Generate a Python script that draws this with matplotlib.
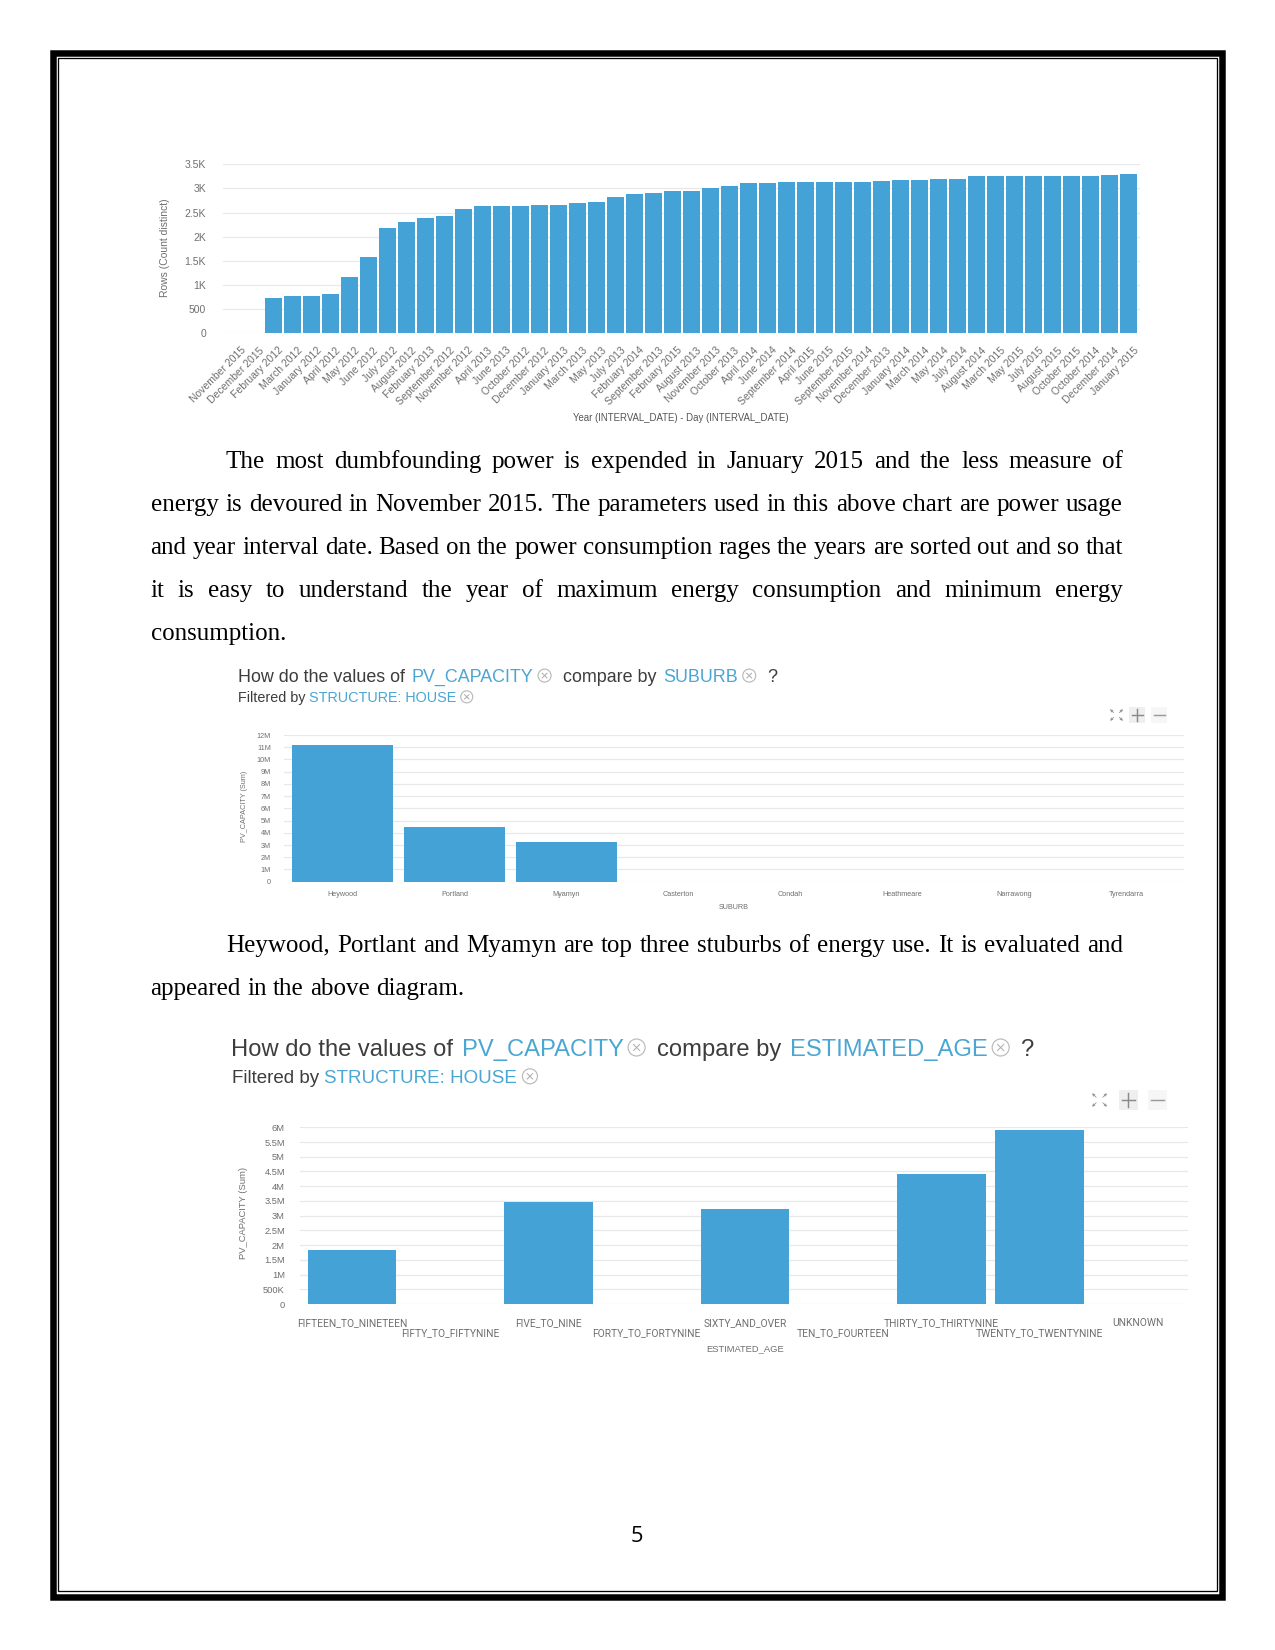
import matplotlib
matplotlib.use("Agg")
import matplotlib.pyplot as plt
from matplotlib.patches import Rectangle, Circle
import matplotlib.transforms as mtransforms
import numpy as np

# ---------------- data ----------------
months = ["November 2015", "December 2015", "February 2012", "March 2012", "January 2012",
          "April 2012", "May 2012", "June 2012", "July 2012", "August 2012", "February 2013",
          "September 2012", "November 2012", "April 2013", "June 2013", "October 2012",
          "December 2012", "January 2013", "March 2013", "May 2013", "July 2013",
          "February 2014", "September 2013", "February 2015", "August 2013", "November 2013",
          "October 2013", "April 2014", "June 2014", "September 2014", "April 2015",
          "June 2015", "September 2015", "November 2014", "December 2013", "January 2014",
          "March 2014", "May 2014", "July 2014", "August 2014", "March 2015", "May 2015",
          "July 2015", "August 2015", "October 2015", "October 2014", "December 2014",
          "January 2015"]
rows_count = [0, 0, 725, 773, 773, 814, 1166, 1580, 2174, 2305, 2395, 2436, 2567, 2629,
              2629, 2629, 2657, 2657, 2698, 2719, 2830, 2878, 2899, 2947, 2947, 3009, 3057,
              3119, 3119, 3140, 3140, 3140, 3140, 3140, 3161, 3181, 3181, 3202, 3202, 3250,
              3250, 3250, 3250, 3250, 3250, 3250, 3271, 3299]
rows_ticks = [0, 500, 1000, 1500, 2000, 2500, 3000, 3500]
rows_ticklabels = ["0", "500", "1K", "1.5K", "2K", "2.5K", "3K", "3.5K"]

suburbs = ["Heywood", "Portland", "Myamyn", "Casterton", "Condah", "Heathmeare",
           "Narrawong", "Tyrendarra"]
pv_by_suburb = [11.18e6, 4.45e6, 3.22e6, 0, 0, 0, 0, 0]
suburb_ticks = [i * 1e6 for i in range(13)]
suburb_ticklabels = ["0"] + ["%dM" % i for i in range(1, 13)]

ages = ["FIFTEEN_TO_NINETEEN", "FIFTY_TO_FIFTYNINE", "FIVE_TO_NINE", "FORTY_TO_FORTYNINE",
        "SIXTY_AND_OVER", "TEN_TO_FOURTEEN", "THIRTY_TO_THIRTYNINE",
        "TWENTY_TO_TWENTYNINE", "UNKNOWN"]
pv_by_age = [1.83e6, 0, 3.47e6, 0, 3.24e6, 0, 4.41e6, 5.91e6, 0]
age_ticks = [i * 0.5e6 for i in range(13)]
age_ticklabels = ["0", "500K", "1M", "1.5M", "2M", "2.5M", "3M", "3.5M", "4M", "4.5M",
                  "5M", "5.5M", "6M"]

para1 = ["The most dumbfounding power is expended in January 2015 and the less measure of",
         "energy is devoured in November 2015. The parameters used in this above chart are power usage",
         "and year interval date. Based on the power consumption rages the years are sorted out and so that",
         "it is easy to understand the year of maximum energy consumption and minimum energy",
         "consumption."]
para2 = ["Heywood, Portlant and Myamyn are top three stuburbs of energy use. It is evaluated and",
         "appeared in the above diagram."]

# ---------------- style ----------------
W, H, DPI = 1275, 1650, 150
BLUE = "#44a2d6"
TBLUE = "#4aa6d3"
DARK = "#3d3d3d"
TICK = "#6f6f6f"
GRID = "#e8e8e8"
SANS = "Liberation Sans"
SMALL = "Roboto"
SERIF = "Liberation Serif"


def pt(px):
    return px * 72.0 / DPI


fig = plt.figure(figsize=(W / DPI, H / DPI), dpi=DPI)
fig.patch.set_facecolor("white")
page = fig.add_axes([0, 0, 1, 1], zorder=0)
page.set_xlim(0, W)
page.set_ylim(H, 0)
page.axis("off")
renderer = fig.canvas.get_renderer()


def px_axes(x0, y0, x1, y1):
    return fig.add_axes([x0 / W, 1 - y1 / H, (x1 - x0) / W, (y1 - y0) / H], zorder=1)


def width_of(t):
    return t.get_window_extent(renderer).width


# ---------------- page border ----------------
page.add_patch(Rectangle((53, 53), 1222 - 53, 1596.5 - 53, fill=False, ec="black",
                         lw=pt(6.5), joinstyle="miter"))
page.add_patch(Rectangle((58, 57.8), 1216.5 - 58, 1591 - 57.8, fill=False, ec="black",
                         lw=pt(1.3), joinstyle="miter"))


# ---------------- helpers ----------------
def icon(x, cy, r):
    page.add_patch(Circle((x + r, cy), r, fill=False, ec="#b8b8b8", lw=0.55))
    d = r * 0.36
    page.plot([x + r - d, x + r + d], [cy - d, cy + d], color="#b0b0b0", lw=0.5)
    page.plot([x + r - d, x + r + d], [cy + d, cy - d], color="#b0b0b0", lw=0.5)


def seg_line(x, y, segs, size):
    sp = size * DPI / 72.0 * 0.278
    cap = size * DPI / 72.0 * 0.716
    for kind, val, color in segs:
        if kind == "text":
            t = page.text(x, y, val, fontsize=size, color=color, family=SANS,
                          ha="left", va="baseline")
            x += width_of(t)
        elif kind == "space":
            x += sp * val
        elif kind == "icon":
            icon(x, y - cap / 2.0, val)
            x += 2 * val


def toolbar(xe, xp, xm, cy, s):
    # expand icon: four small arrows pointing to the corners
    cx = xe + s * 0.5
    for sx, sy in [(-1, -1), (1, -1), (-1, 1), (1, 1)]:
        page.annotate("", xy=(cx + sx * s * 0.5, cy + sy * s * 0.45),
                      xytext=(cx + sx * s * 0.22, cy + sy * s * 0.18),
                      arrowprops=dict(arrowstyle="-|>", lw=0.4, color="#9a9a9a",
                                      mutation_scale=2.5, shrinkA=0, shrinkB=0))
    # plus
    page.add_patch(Rectangle((xp, cy - s * 0.65), s * 1.25, s * 1.3, fc="#efefef", ec="none"))
    page.plot([xp + s * 0.2, xp + s * 1.05], [cy, cy], color="#8a8a8a", lw=0.7)
    page.plot([xp + s * 0.625, xp + s * 0.625], [cy - s * 0.45, cy + s * 0.45],
              color="#8a8a8a", lw=0.7)
    # minus
    page.add_patch(Rectangle((xm, cy - s * 0.65), s * 1.25, s * 1.3, fc="#f6f6f6", ec="none"))
    page.plot([xm + s * 0.2, xm + s * 1.05], [cy, cy], color="#9a9a9a", lw=0.7)


def style_axes(ax):
    for s in ax.spines.values():
        s.set_visible(False)
    ax.set_axisbelow(True)
    ax.grid(axis="y", color=GRID, lw=0.6)
    ax.grid(axis="x", visible=False)
    ax.tick_params(length=0, colors=TICK)
    ax.patch.set_alpha(0)


def justify(lines, x0, x1, y0, step, indent, size):
    sp = size * DPI / 72.0 * 0.25
    for li, line in enumerate(lines):
        words = line.split(" ")
        y = y0 + li * step
        xs = x0 + (indent if li == 0 else 0)
        texts = [page.text(0, y, w, fontsize=size, family=SERIF, color="black",
                           ha="left", va="baseline") for w in words]
        ws = [width_of(t) for t in texts]
        last = li == len(lines) - 1
        if last or len(words) == 1:
            gap = sp
        else:
            gap = (x1 - xs - sum(ws)) / (len(words) - 1)
        x = xs
        for t, w in zip(texts, ws):
            t.set_x(x)
            x += w + gap


# ---------------- chart 1 ----------------
ax1 = px_axes(223, 164.3, 1140, 333.3)
xi = np.arange(len(months))
ax1.bar(xi, rows_count, width=0.88, color=BLUE, zorder=2)
ax1.set_xlim(-0.647, 47.616)
ax1.set_ylim(0, 3500)
style_axes(ax1)
ax1.set_yticks(rows_ticks)
ax1.set_yticklabels(rows_ticklabels, family=SANS, fontsize=5)
ax1.tick_params(axis="y", pad=pt(17))
ax1.set_xticks(xi)
ax1.set_xticklabels(months, rotation=45, ha="right", va="top", rotation_mode="anchor",
                    family=SANS, fontsize=5)
ax1.tick_params(axis="x", pad=pt(12))
off = mtransforms.ScaledTranslation(5.0 / DPI, 0, fig.dpi_scale_trans)
for lab in ax1.get_xticklabels():
    lab.set_transform(lab.get_transform() + off)
page.text(165, 248, "Rows (Count distinct)", rotation=90, ha="center", va="center",
          fontsize=5, family=SANS, color=TICK)
page.text(681, 418, "Year (INTERVAL_DATE) - Day (INTERVAL_DATE)", ha="center", va="center",
          fontsize=4.6, family=SANS, color="#555555")

# ---------------- paragraph 1 ----------------
justify(para1, 150.5, 1123, 468, 43.1, 75.5, 12)

# ---------------- chart 2 ----------------
seg_line(238, 682, [("text", "How do the values of", DARK), ("space", 1.3, None),
                    ("text", "PV_CAPACITY", TBLUE), ("space", 1.0, None), ("icon", 6.5, None),
                    ("space", 2.4, None), ("text", "compare by", DARK), ("space", 1.3, None),
                    ("text", "SUBURB", TBLUE), ("space", 1.0, None), ("icon", 6.5, None),
                    ("space", 2.4, None), ("text", "?", DARK)], 8.6)
seg_line(238, 702, [("text", "Filtered by", DARK), ("space", 1.0, None),
                    ("text", "STRUCTURE: HOUSE", TBLUE), ("space", 1.0, None),
                    ("icon", 6, None)], 6.9)
toolbar(1110, 1129, 1151, 715, 13)

ax2 = px_axes(284, 735, 1184, 881.7)
xs2 = np.arange(len(suburbs))
ax2.bar(xs2, pv_by_suburb, width=0.9, color=BLUE, zorder=2)
ax2.set_xlim(-0.522, 7.513)
ax2.set_ylim(0, 12e6)
style_axes(ax2)
ax2.set_yticks(suburb_ticks)
ax2.set_yticklabels(suburb_ticklabels, family=SANS, fontsize=3.5)
ax2.tick_params(axis="y", pad=pt(13))
ax2.set_xticks(xs2)
ax2.set_xticklabels(suburbs, family=SANS, fontsize=3.5)
ax2.tick_params(axis="x", pad=pt(9))
page.text(244, 806.5, "PV_CAPACITY (Sum)", rotation=90, ha="center", va="center",
          fontsize=3.5, family=SANS, color=TICK)
page.text(734, 907.5, "SUBURB", ha="center", va="center", fontsize=3.5, family=SANS,
          color=TICK)

# ---------------- paragraph 2 ----------------
justify(para2, 150.5, 1123, 952, 43.1, 75.5, 12)

# ---------------- chart 3 ----------------
seg_line(231, 1056, [("text", "How do the values of", DARK), ("space", 1.3, None),
                     ("text", "PV_CAPACITY", TBLUE), ("space", 0.7, None), ("icon", 8.5, None),
                     ("space", 1.8, None), ("text", "compare by", DARK), ("space", 1.3, None),
                     ("text", "ESTIMATED_AGE", TBLUE), ("space", 0.7, None), ("icon", 8.5, None),
                     ("space", 1.8, None), ("text", "?", DARK)], 11.4)
seg_line(231.5, 1083, [("text", "Filtered by", DARK), ("space", 1.0, None),
                       ("text", "STRUCTURE: HOUSE", TBLUE), ("space", 1.1, None),
                       ("icon", 7.5, None)], 9)
toolbar(1092, 1119, 1148, 1100, 15)

ax3 = px_axes(300, 1127.3, 1188, 1304)
xs3 = np.arange(len(ages))
ax3.bar(xs3, pv_by_age, width=0.9, color=BLUE, zorder=2)
ax3.set_xlim(-0.53, 8.51)
ax3.set_ylim(0, 6e6)
style_axes(ax3)
ax3.set_yticks(age_ticks)
ax3.set_yticklabels(age_ticklabels, family=SANS, fontsize=4.5)
ax3.tick_params(axis="y", pad=pt(15))
ax3.set_xticks(xs3)
ax3.set_xticklabels([])
lab_tr = mtransforms.blended_transform_factory(ax3.transData, ax3.transAxes)
for i, a in enumerate(ages):
    dy = 29.5 if i % 2 else 19.0
    tr = lab_tr + mtransforms.ScaledTranslation(0, -dy / DPI, fig.dpi_scale_trans)
    ax3.text(xs3[i], 0, a, transform=tr, ha="center", va="center", family=SMALL,
             fontsize=4.9, color=TICK, clip_on=False)
page.text(243, 1213, "PV_CAPACITY (Sum)", rotation=90, ha="center", va="center",
          fontsize=4.5, family=SANS, color=TICK)
page.text(745, 1349, "ESTIMATED_AGE", ha="center", va="center", fontsize=4.5, family=SANS,
          color=TICK)

# ---------------- page number ----------------
page.text(637, 1536, "5", ha="center", va="center", fontsize=10.5, family="Open Sans",
          color="black")

fig.savefig("out.png", dpi=DPI, facecolor="white")
